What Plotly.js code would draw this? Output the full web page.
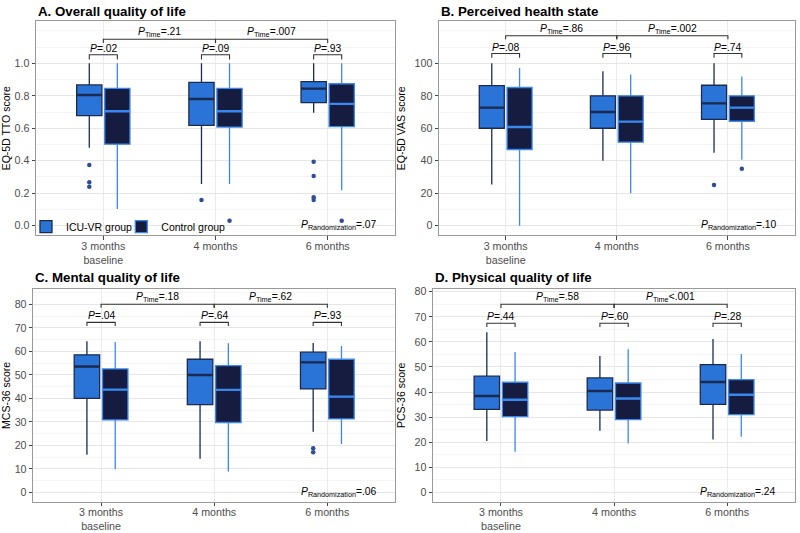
<!DOCTYPE html>
<html><head><meta charset="utf-8">
<script src="https://cdn.plot.ly/plotly-3.0.1.min.js"></script>
<style>html,body{margin:0;padding:0;background:#fff}</style>
</head><body><div id="chart" style="width:800px;height:533px"></div>
<script>
// ---------- DATA ----------
const timeLabels = ['3 months<br>baseline', '4 months', '6 months'];
const groupNames = ['ICU-VR group', 'Control group'];

// A. EQ-5D TTO
const ttoIcuLower = [0.48, 0.257, 0.696];
const ttoIcuQ1    = [0.678, 0.618, 0.758];
const ttoIcuMed   = [0.805, 0.780, 0.844];
const ttoIcuQ3    = [0.867, 0.882, 0.887];
const ttoIcuUpper = [1.0, 1.0, 1.0];
const ttoIcuOut   = [[0.374, 0.267, 0.240], [0.158], [0.394, 0.306, 0.175, 0.158]];
const ttoCtlLower = [0.103, 0.257, 0.218];
const ttoCtlQ1    = [0.502, 0.607, 0.610];
const ttoCtlMed   = [0.705, 0.705, 0.750];
const ttoCtlQ3    = [0.845, 0.845, 0.874];
const ttoCtlUpper = [1.0, 1.0, 1.0];
const ttoCtlOut   = [[], [0.031], [0.031]];
const ttoP = ['.02', '.09', '.93'];
const ttoPTime = ['=.21', '=.007'];
const ttoPRand = '=.07';

// B. EQ-5D VAS
const vasIcuLower = [25.3, 40, 44.9];
const vasIcuQ1    = [60, 60, 65.5];
const vasIcuMed   = [72.7, 70, 75.3];
const vasIcuQ3    = [86.3, 80, 86.5];
const vasIcuUpper = [100, 95.1, 100];
const vasIcuOut   = [[], [], [25]];
const vasCtlLower = [0, 20, 40.6];
const vasCtlQ1    = [46.9, 51.4, 64.3];
const vasCtlMed   = [60.8, 64.1, 72.7];
const vasCtlQ3    = [85.1, 80, 80];
const vasCtlUpper = [97.1, 93.1, 91.9];
const vasCtlOut   = [[], [], [35]];
const vasP = ['.08', '.96', '.74'];
const vasPTime = ['=.86', '=.002'];
const vasPRand = '=.10';

// C. MCS-36
const mcsIcuLower = [16, 14.3, 25.8];
const mcsIcuQ1    = [40, 37.3, 44];
const mcsIcuMed   = [53.5, 49.9, 55.3];
const mcsIcuQ3    = [58.5, 56.6, 59.6];
const mcsIcuUpper = [64.3, 64.3, 63.5];
const mcsIcuOut   = [[], [], [18.7, 17.0]];
const mcsCtlLower = [9.8, 8.8, 20.6];
const mcsCtlQ1    = [30.8, 29.7, 31.2];
const mcsCtlMed   = [43.7, 43.6, 40.7];
const mcsCtlQ3    = [52.5, 53.9, 56.6];
const mcsCtlUpper = [64, 63.4, 62.3];
const mcsCtlOut   = [[], [], []];
const mcsP = ['.04', '.64', '.93'];
const mcsPTime = ['=.18', '=.62'];
const mcsPRand = '=.06';

// D. PCS-36
const pcsIcuLower = [20.5, 24.6, 21.1];
const pcsIcuQ1    = [33.1, 32.8, 35.1];
const pcsIcuMed   = [38.4, 40.4, 44.0];
const pcsIcuQ3    = [46.3, 45.6, 50.9];
const pcsIcuUpper = [63.8, 54.4, 61.1];
const pcsIcuOut   = [[], [], []];
const pcsCtlLower = [16.2, 19.5, 22.2];
const pcsCtlQ1    = [30.2, 29.0, 31.0];
const pcsCtlMed   = [36.9, 37.4, 38.9];
const pcsCtlQ3    = [43.9, 43.6, 44.9];
const pcsCtlUpper = [56.0, 57.0, 55.2];
const pcsCtlOut   = [[], [], []];
const pcsP = ['.44', '.60', '.28'];
const pcsPTime = ['=.58', '<.001'];
const pcsPRand = '=.24';

const ttoTicks = [0, 0.2, 0.4, 0.6, 0.8, 1.0];
const vasTicks = [0, 20, 40, 60, 80, 100];
const sf36Ticks = [0, 10, 20, 30, 40, 50, 60, 70, 80];

// ---------- LAYOUT / STYLE ----------
const W = 800, H = 533;
const FONT = 'Liberation Sans, Arial, Helvetica, sans-serif';
const ICU_FILL = '#2a74d8', ICU_LINE = '#1b2a50';
const CTL_FILL = '#151c40', CTL_LINE = '#3a88ee';
const OUT_COLOR = '#2d4d96';
const DODGE = 0.125, BOXW = 0.225;

const panels = [
  {title: 'A. Overall quality of life', ytitle: 'EQ-5D TTO score',
   icu: [ttoIcuLower, ttoIcuQ1, ttoIcuMed, ttoIcuQ3, ttoIcuUpper, ttoIcuOut],
   ctl: [ttoCtlLower, ttoCtlQ1, ttoCtlMed, ttoCtlQ3, ttoCtlUpper, ttoCtlOut],
   p: ttoP, pTime: ttoPTime, pRand: ttoPRand, ticks: ttoTicks, minor: 0.1, fmt: '.1f',
   px: [36, 395], py: [21.1, 235.4], range: [-0.06, 1.26],
   br: {p: 1.053, pt: 1.024, t: 1.148, tt: 1.125}, titleY: 11},
  {title: 'B. Perceived health state', ytitle: 'EQ-5D VAS score',
   icu: [vasIcuLower, vasIcuQ1, vasIcuMed, vasIcuQ3, vasIcuUpper, vasIcuOut],
   ctl: [vasCtlLower, vasCtlQ1, vasCtlMed, vasCtlQ3, vasCtlUpper, vasCtlOut],
   p: vasP, pTime: vasPTime, pRand: vasPRand, ticks: vasTicks, minor: 10, fmt: 'd',
   px: [439, 794.6], py: [21.1, 235.4], range: [-6, 126],
   br: {p: 106, pt: 103.5, t: 117, tt: 114.8}, titleY: 11},
  {title: 'C. Mental quality of life', ytitle: 'MCS-36 score',
   icu: [mcsIcuLower, mcsIcuQ1, mcsIcuMed, mcsIcuQ3, mcsIcuUpper, mcsIcuOut],
   ctl: [mcsCtlLower, mcsCtlQ1, mcsCtlMed, mcsCtlQ3, mcsCtlUpper, mcsCtlOut],
   p: mcsP, pTime: mcsPTime, pRand: mcsPRand, ticks: sf36Ticks, minor: 5, fmt: 'd',
   px: [33.2, 395.2], py: [289, 501.7], range: [-4.0, 86.5],
   br: {p: 72.3, pt: 70.8, t: 80, tt: 78.5}, titleY: 277.3},
  {title: 'D. Physical quality of life', ytitle: 'PCS-36 score',
   icu: [pcsIcuLower, pcsIcuQ1, pcsIcuMed, pcsIcuQ3, pcsIcuUpper, pcsIcuOut],
   ctl: [pcsCtlLower, pcsCtlQ1, pcsCtlMed, pcsCtlQ3, pcsCtlUpper, pcsCtlOut],
   p: pcsP, pTime: pcsPTime, pRand: pcsPRand, ticks: sf36Ticks, minor: 5, fmt: 'd',
   px: [433.1, 795], py: [289, 501.7], range: [-3.73, 81.07],
   br: {p: 67.4, pt: 65.9, t: 75, tt: 73.5}, titleY: 277.3}
];

const traces = [];
const shapes = [];
const annotations = [];
const legendBase = {orientation: 'h', y: 1 - 226.7 / H, xanchor: 'left', yanchor: 'middle',
  bgcolor: 'rgba(0,0,0,0)', font: {size: 10.5, family: FONT, color: '#000'}, itemclick: false};
const layout = {
  width: W, height: H, margin: {l: 0, r: 0, t: 0, b: 0},
  paper_bgcolor: '#fff', plot_bgcolor: '#fff',
  font: {family: FONT, color: '#000'},
  boxmode: 'overlay', showlegend: true,
  legend: Object.assign({}, legendBase, {x: 0.0325}),
  legend2: Object.assign({}, legendBase, {x: 0.0325 + (141 - 45.7) / W}),
};
const legendRefs = ['legend', 'legend2'];

const pos = timeLabels.map((_, i) => i + 1);

panels.forEach((pn, k) => {
  const sfx = k === 0 ? '' : String(k + 1);
  const xa = 'x' + sfx, ya = 'y' + sfx;
  const groupsData = [
    {d: pn.icu, off: -DODGE, fill: ICU_FILL, line: ICU_LINE, name: groupNames[0], lg: legendRefs[0]},
    {d: pn.ctl, off: DODGE, fill: CTL_FILL, line: CTL_LINE, name: groupNames[1], lg: legendRefs[1]}
  ];
  groupsData.forEach(g => {
    const xs = pos.map(p => p + g.off);
    traces.push({
      type: 'box', xaxis: xa, yaxis: ya, name: g.name, legendgroup: g.name, legend: g.lg,
      showlegend: k === 0, x: xs,
      lowerfence: g.d[0], q1: g.d[1], median: g.d[2], q3: g.d[3], upperfence: g.d[4],
      boxpoints: false, width: BOXW, whiskerwidth: 0,
      fillcolor: g.fill, line: {color: g.line, width: 1.3}, hoverinfo: 'skip'
    });
    // thicker median line (ggplot fatten)
    const mx = [], my = [];
    xs.forEach((x, i) => { mx.push(x - BOXW / 2, x + BOXW / 2, null); my.push(g.d[2][i], g.d[2][i], null); });
    traces.push({type: 'scatter', mode: 'lines', xaxis: xa, yaxis: ya, x: mx, y: my,
      line: {color: g.line, width: 2.4}, showlegend: false, hoverinfo: 'skip'});
    // outliers
    const ox = [], oy = [];
    g.d[5].forEach((arr, i) => arr.forEach(v => { ox.push(xs[i]); oy.push(v); }));
    if (ox.length) traces.push({type: 'scatter', mode: 'markers', xaxis: xa, yaxis: ya, x: ox, y: oy,
      marker: {color: OUT_COLOR, size: 4.5}, showlegend: false, hoverinfo: 'skip'});
  });

  const dom = [pn.px[0] / W, pn.px[1] / W];
  const domY = [1 - pn.py[1] / H, 1 - pn.py[0] / H];
  layout['xaxis' + sfx] = {
    domain: dom, anchor: ya, range: [0.4, 3.6], tickmode: 'array', tickvals: pos, ticktext: timeLabels,
    showgrid: true, gridcolor: '#ebebeb', gridwidth: 1, zeroline: false,
    showline: true, mirror: true, linecolor: '#999999', linewidth: 1,
    ticks: 'outside', ticklen: 3.5, tickcolor: '#444', tickwidth: 1, ticklabelstandoff: -3,
    tickfont: {size: 10.7, color: '#4d4d4d', family: FONT}, fixedrange: true
  };
  layout['yaxis' + sfx] = {
    domain: domY, anchor: xa, range: pn.range, tickmode: 'array', tickvals: pn.ticks, tickformat: pn.fmt,
    showgrid: true, gridcolor: '#e6e6e6', gridwidth: 1, zeroline: false,
    minor: {tickmode: 'linear', tick0: 0, dtick: pn.minor, showgrid: true, gridcolor: '#f3f3f3', gridwidth: 0.8, ticklen: 0},
    showline: true, mirror: true, linecolor: '#999999', linewidth: 1,
    ticks: 'outside', ticklen: 3.5, tickcolor: '#444', tickwidth: 1,
    tickfont: {size: 10.7, color: '#4d4d4d', family: FONT},
    title: {text: pn.ytitle, font: {size: 10.5, color: '#000', family: FONT}, standoff: 6},
    fixedrange: true
  };

  const b = pn.br;
  const brLine = {color: '#333', width: 1.1};
  pos.forEach((p, i) => {
    const x1 = p - DODGE, x2 = p + DODGE;
    shapes.push({type: 'path', xref: xa, yref: ya, line: brLine,
      path: `M${x1},${b.pt} L${x1},${b.p} L${x2},${b.p} L${x2},${b.pt}`});
    annotations.push({xref: xa, yref: ya, x: p, y: b.p, yanchor: 'bottom', xanchor: 'center',
      showarrow: false, text: '<i>P</i>=' + pn.p[i], font: {size: 10.3, family: FONT, color: '#000'}, yshift: -1});
  });
  for (let j = 0; j < pos.length - 1; j++) {
    const x1 = pos[j], x2 = pos[j + 1];
    shapes.push({type: 'path', xref: xa, yref: ya, line: brLine,
      path: `M${x1},${b.tt} L${x1},${b.t} L${x2},${b.t} L${x2},${b.tt}`});
    annotations.push({xref: xa, yref: ya, x: (x1 + x2) / 2, y: b.t, yanchor: 'bottom', xanchor: 'center',
      showarrow: false, text: '<i>P</i><sub>Time</sub>' + pn.pTime[j], font: {size: 10.3, family: FONT, color: '#000'}, yshift: -2});
  }
  annotations.push({xref: xa, yref: ya, x: 3.1, y: 0, yanchor: 'middle', xanchor: 'center',
    showarrow: false, text: '<i>P</i><sub>Randomization</sub>' + pn.pRand, font: {size: 10.3, family: FONT, color: '#000'}});
  annotations.push({xref: 'paper', yref: 'paper', x: pn.px[0] / W, y: 1 - pn.titleY / H, xanchor: 'left', yanchor: 'middle',
    showarrow: false, text: '<b>' + pn.title + '</b>', font: {size: 13.3, family: FONT, color: '#000'}});
});

layout.shapes = shapes;
layout.annotations = annotations;

Plotly.newPlot('chart', traces, layout, {displayModeBar: false, staticPlot: true});
</script>
</body></html>
